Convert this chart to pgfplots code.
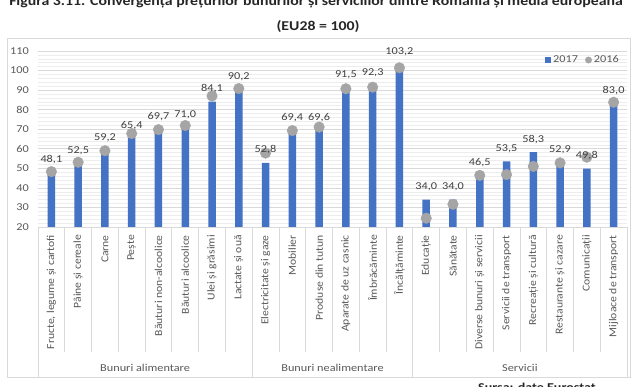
\documentclass[border=0pt]{standalone}
\usepackage{fontspec}
\setmainfont{Carlito}[FakeStretch=1.17]
\newfontfamily\rotfont{Carlito}[FakeStretch=1.1]
\usepackage{pgfplots}
\pgfplotsset{compat=1.18}
\usepackage{pgfplotstable}
\definecolor{bar17}{HTML}{4472C4}
\definecolor{dot16}{HTML}{A5A5A5}
\definecolor{gridmaj}{HTML}{D9D9D9}
\definecolor{gridmin}{HTML}{EDEDED}
\definecolor{txt}{HTML}{595959}
\definecolor{lbl}{HTML}{404040}
\definecolor{ttl}{HTML}{262626}

\pgfplotstableread{
x v17 v16
0 48.1 48.3
1 52.5 53.1
2 59.2 59.0
3 65.4 67.8
4 69.7 69.8
5 71.0 71.9
6 84.1 87.0
7 90.2 90.8
8 52.8 57.8
9 69.4 69.3
10 69.6 71.1
11 91.5 90.7
12 92.3 91.5
13 103.2 101.4
14 34.0 24.5
15 34.0 31.6
16 46.5 46.4
17 53.5 46.8
18 58.3 51.0
19 52.9 52.8
20 49.8 55.7
21 83.0 83.8
}\data

\begin{document}
\begin{tikzpicture}
\path[use as bounding box, clip] (0,0) rectangle (633bp,387bp);
\fill[white] (0,0) rectangle (633bp,387bp);
\draw[gridmaj, line width=0.75bp] (7bp,10bp) rectangle (630bp,349bp);
\begin{axis}[
  at={(38bp,160bp)}, anchor=south west,
  scale only axis, width=589bp, height=176bp,
  xmin=-0.5, xmax=21.5, ymin=20, ymax=110,
  xtick={0,...,21},
  xticklabels={{Fructe, legume și cartofi},Pâine și cereale,Carne,Pește,Băuturi non-alcoolice,Băuturi alcoolice,Ulei și grăsimi,Lactate și ouă,Electricitate și gaze,Mobilier,Produse din tutun,Aparate de uz casnic,Îmbrăcăminte,Încălțăminte,Educație,Sănătate,Diverse bunuri și servicii,Servicii de transport,Recreație și cultură,Restaurante și cazare,Comunicații,Mijloace de transport},
  ytick={20,30,...,110}, minor y tick num=4,
  ymajorgrids, yminorgrids,
  major grid style={gridmaj, line width=0.75bp},
  minor grid style={gridmin, line width=0.6bp},
  axis line style={draw=none},
  major tick length=0pt, minor tick length=0pt,
  tick style={draw=none},
  /pgf/number format/assume math mode=true,
  yticklabel style={font=\fontsize{10.5bp}{12bp}\selectfont, text=txt, inner sep=0pt, anchor=east, xshift=-9bp},
  xticklabel style={rotate=90, anchor=east, font=\rotfont\fontsize{10.6bp}{12bp}\selectfont, text=txt, inner sep=0pt},
  xticklabel shift=8bp,
  legend style={at={(1,1)}, anchor=east, xshift=-6bp, yshift=-9bp, draw=none, fill=none,
    font=\fontsize{10.5bp}{12bp}\selectfont, text=txt, legend columns=2,
    /tikz/every even column/.append style={column sep=5bp}, inner sep=0pt},
]
\addplot[ybar, bar width=7.5bp, fill=bar17, draw=none,
  legend image code/.code={\fill[bar17] (0bp,-3bp) rectangle (6bp,3bp);}]
  table[x=x, y=v17]{\data};
\addlegendentry{2017}
\addplot[only marks, mark=*, mark size=5.3bp, color=dot16, mark options={draw=none, fill=dot16},
  legend image code/.code={\fill[dot16] (3bp,0bp) circle (3.2bp);}]
  table[x=x, y=v16]{\data};
\addlegendentry{2016}
\addplot[draw=none, mark=none, forget plot,
  nodes near coords={\pgfmathprintnumber[fixed,fixed zerofill,precision=1,use comma,assume math mode=true]{\pgfplotspointmeta}},
  every node near coord/.append style={anchor=south, inner sep=0pt, yshift=8.4bp, font=\fontsize{10.5bp}{12bp}\selectfont, text=lbl}]
  table[x=x, y=v17]{\data};
\pgfplotsinvokeforeach{0,...,22}{\coordinate (s#1) at (axis cs:#1-0.5,20);}
\coordinate (ga) at (axis cs:3.5,20);
\coordinate (gb) at (axis cs:10.5,20);
\coordinate (gc) at (axis cs:17.5,20);
\end{axis}
\foreach \i in {1,2,3,4,5,6,7,9,10,11,12,13,15,16,17,18,19,20,21}
  \draw[gridmaj, line width=0.75bp] (s\i) -- ++(0,-125bp);
\foreach \i in {0,8,14,22}
  \draw[gridmaj, line width=0.75bp] (s\i) -- ++(0,-150bp);
\foreach \c/\t in {ga/Bunuri alimentare, gb/Bunuri nealimentare, gc/Servicii}
  \node[font=\fontsize{10.5bp}{12bp}\selectfont, text=txt, inner sep=0pt] at ([yshift=-141bp]\c) {\t};
\node[font=\bfseries\fontsize{13.5bp}{16bp}\selectfont, text=ttl, anchor=base, inner sep=0pt] at (318bp,356.3bp) {(EU28 = 100)};
\node[font=\bfseries\fontsize{13.5bp}{16bp}\selectfont, text=ttl, anchor=base, inner sep=0pt] at (316bp,381bp) {Figura 3.11. Convergența prețurilor bunurilor și serviciilor dintre România și media europeană};
\node[font=\bfseries\fontsize{12bp}{14bp}\selectfont, text=ttl, anchor=north west, inner sep=0pt] at (478bp,4bp) {Sursa: date Eurostat};
\end{tikzpicture}
\end{document}
